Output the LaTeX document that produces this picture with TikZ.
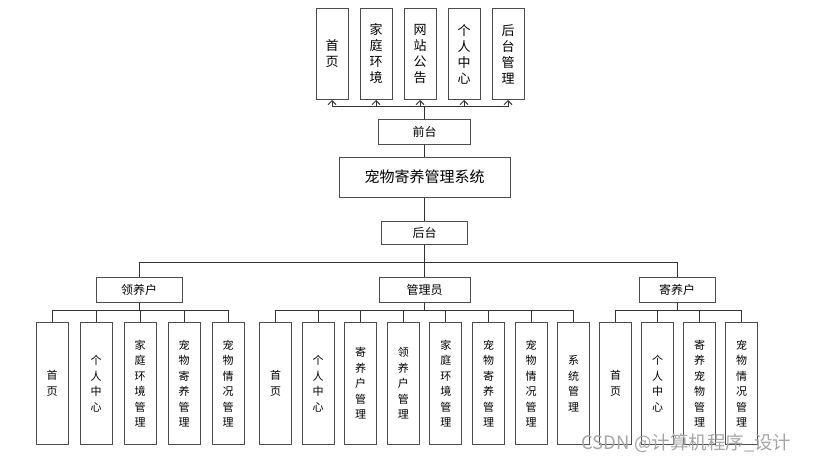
\documentclass[tikz,border=0pt]{standalone}
\usepackage{fontspec}
\setmainfont{Noto Sans CJK SC}
\usetikzlibrary{arrows.meta,positioning}
\tikzset{
	%Define standard arrow tip
	>={Straight Barb[length=4pt,width=8pt]},
	%Define style for boxes
	kuang/.style={
		rectangle,
		draw=black!70, line width=1pt,
		inner sep=0pt,
		minimum height=25pt,
		font=\fontsize{12}{14}\selectfont},
	% tall boxes with the text written downwards
	shu/.style={kuang, minimum width=32pt, align=center},
	shang/.style={shu, minimum height=91pt, font=\fontsize{13}{16}\selectfont},
	xia/.style={shu, minimum width=32pt, minimum height=122pt, font=\fontsize{11}{15.5}\selectfont},
	% Define line styles
	xian/.style={draw=black!80, line width=0.9pt},
	pil/.style={xian, ->}
}
\begin{document}
\begin{tikzpicture}[x=1pt, y=-1pt]
		\useasboundingbox (0,0) rectangle (815,463);
		%nodes
		\node[kuang, minimum width=171pt, minimum height=40pt, font=\fontsize{15}{18}\selectfont]
		(xitong) at (424.5,177) {宠物寄养管理系统};
		\node[kuang, minimum width=92pt] (qiantai) at (424.5,131.5) {前台};
		\node[kuang, minimum width=86pt, minimum height=23pt] (houtai) at (424.5,232.5) {后台};
		% front end menu
		\node[shang, anchor=north] (t1) at (332,8) {首\\页};
		\node[shang, right=11pt of t1] (t2) {家\\庭\\环\\境};
		\node[shang, right=11pt of t2] (t3) {网\\站\\公\\告};
		\node[shang, right=11pt of t3] (t4) {个\\人\\中\\心};
		\node[shang, right=11pt of t4] (t5) {后\\台\\管\\理};
		% the three roles
		\node[kuang, minimum width=86pt] (lingyang) at (139,289.5) {领养户};
		\node[kuang, minimum width=91pt] (guanli) at (424.5,289.5) {管理员};
		\node[kuang, minimum width=76pt] (jiyang) at (677,289.5) {寄养户};
		% adopter
		\node[xia, anchor=north] (l1) at (52,322) {首\\页};
		\node[xia, right=11pt of l1] (l2) {个\\人\\中\\心};
		\node[xia, right=11pt of l2] (l3) {家\\庭\\环\\境\\管\\理};
		\node[xia, right=11pt of l3] (l4) {宠\\物\\寄\\养\\管\\理};
		\node[xia, right=11pt of l4] (l5) {宠\\物\\情\\况\\管\\理};
		% admin
		\node[xia, anchor=north] (g1) at (275.5,322) {首\\页};
		\node[xia, right=9.6pt of g1] (g2) {个\\人\\中\\心};
		\node[xia, right=9.6pt of g2] (g3) {寄\\养\\户\\管\\理};
		\node[xia, right=9.6pt of g3] (g4) {领\\养\\户\\管\\理};
		\node[xia, right=9.6pt of g4] (g5) {家\\庭\\环\\境\\管\\理};
		\node[xia, right=9.6pt of g5] (g6) {宠\\物\\寄\\养\\管\\理};
		\node[xia, right=9.6pt of g6] (g7) {宠\\物\\情\\况\\管\\理};
		\node[xia, right=9.6pt of g7] (g8) {系\\统\\管\\理};
		% foster
		\node[xia, anchor=north] (j1) at (615.5,322) {首\\页};
		\node[xia, right=9pt of j1] (j2) {个\\人\\中\\心};
		\node[xia, right=9pt of j2] (j3) {寄\\养\\宠\\物\\管\\理};
		\node[xia, right=9pt of j3] (j4) {宠\\物\\情\\况\\管\\理};
		% watermark
		\node[text=black!35, font=\fontsize{18.5}{20}\selectfont, anchor=west] (shuiyin) at (578,443) {CSDN @计算机程序\_设计};
		%edges
		\foreach \i in {1,...,5}
			\draw[pil] (qiantai.north) -- ++(0,-12) -| (t\i.south);
		\draw[xian] (qiantai) -- (xitong);
		\draw[xian] (xitong) -- (houtai);
		\foreach \n in {lingyang,guanli,jiyang}
			\draw[xian] (houtai.south) -- ++(0,18) -| (\n.north);
		\foreach \i in {1,...,5}
			\draw[xian] (lingyang.south) -- ++(0,8) -| (l\i.north);
		\foreach \i in {1,...,8}
			\draw[xian] (guanli.south) -- ++(0,8) -| (g\i.north);
		\foreach \i in {1,...,4}
			\draw[xian] (jiyang.south) -- ++(0,8) -| (j\i.north);
\end{tikzpicture}
\end{document}
